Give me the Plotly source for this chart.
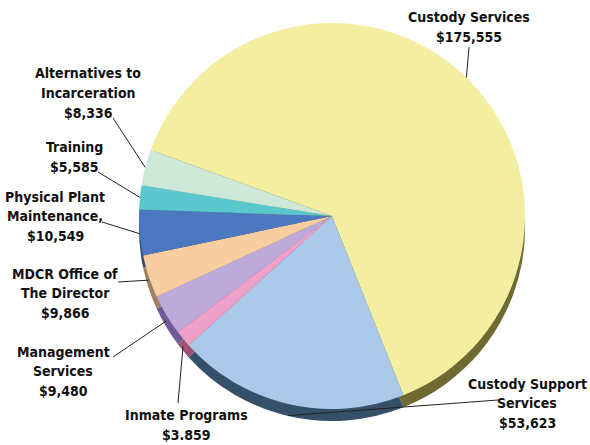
import math
import plotly.graph_objects as go

# ---- data ---------------------------------------------------------------
categories = [
    "Custody Services",
    "Custody Support Services",
    "Inmate Programs",
    "Management Services",
    "MDCR Office of The Director",
    "Physical Plant Maintenance",
    "Training",
    "Alternatives to Incarceration",
]
amounts = [175555, 53623, 3859, 9480, 9866, 10549, 5585, 8336]
name_lines = [
    ["Custody Services"],
    ["Custody Support", "Services"],
    ["Inmate Programs"],
    ["Management", "Services"],
    ["MDCR Office of", "The Director"],
    ["Physical Plant", "Maintenance,"],
    ["Training"],
    ["Alternatives to", "Incarceration"],
]
amount_labels = ["$175,555", "$53,623", "$3.859", "$9,480",
                 "$9,866", "$10,549", "$5,585", "$8,336"]

# ---- styling ------------------------------------------------------------
top_colors = ["#F4EFA0", "#AAC8E8", "#EEA0C8", "#BEAAD8",
              "#F8CDA0", "#4B78BE", "#5AC8CC", "#CDE8D7"]
rim_colors = ["#6E6A32", "#37506A", "#A05070", "#6E5A96",
              "#A08060", "#2E4A78", "#34787A", "#7E9484"]
LABEL_FONT = dict(family="DejaVu Sans Condensed", size=14,
                  color="#111111", weight="bold")
LINE_GAP = 19.5                # pixels between label lines

W, H = 590, 445
CX, CY, R = 332, 216, 193      # pie centre / radius in pixels
DEPTH = 12                     # thickness of the pie edge
START = 160                    # angle (deg, counter-clockwise from east) of first slice edge

# label block centres and leader-line start points (pixels)
label_pos = [(469, 27), (527, 403), (186, 425), (63, 371),
             (65, 293), (55, 216), (74, 157), (88, 93)]
line_start = [(469, 47), (498, 400), (178, 403), (113, 357),
              (118, 282), (102, 222), (98, 172), (113, 118)]


def dom(cy):
    return dict(x=[(CX - R) / W, (CX + R) / W],
                y=[1 - (cy + R) / H, 1 - (cy - R) / H])


fig = go.Figure()
# lower copy of the pie gives the 3-D rim
fig.add_trace(go.Pie(labels=categories, values=amounts, sort=False,
                     direction="clockwise", rotation=90 - START,
                     marker=dict(colors=rim_colors, line=dict(width=0)),
                     textinfo="none", hoverinfo="skip", domain=dom(CY + DEPTH),
                     showlegend=False))
fig.add_trace(go.Pie(labels=categories, values=amounts, sort=False,
                     direction="clockwise", rotation=90 - START,
                     marker=dict(colors=top_colors, line=dict(width=0)),
                     textinfo="none", hoverinfo="label+value", domain=dom(CY),
                     showlegend=False))

total = sum(amounts)
angle = START
annotations, shapes = [], []
for i, v in enumerate(amounts):
    sweep = v / total * 360
    mid = math.radians(angle - sweep / 2)
    angle -= sweep
    dx, dy = math.cos(mid), math.sin(mid)
    tx = CX + R * dx
    ty = CY - R * dy + DEPTH * max(0.0, -dy)
    sx, sy = line_start[i]
    shapes.append(dict(type="line", xref="paper", yref="paper",
                       x0=sx / W, y0=1 - sy / H, x1=tx / W, y1=1 - ty / H,
                       line=dict(color="#222222", width=1)))
    # one annotation per text line so the line spacing can be set exactly
    lines = name_lines[i] + [amount_labels[i]]
    lx, ly = label_pos[i]
    first = ly - LINE_GAP * (len(lines) - 1) / 2
    for k, txt in enumerate(lines):
        annotations.append(dict(
            text=txt, x=lx / W, y=1 - (first + k * LINE_GAP) / H,
            xref="paper", yref="paper", xanchor="center", yanchor="middle",
            showarrow=False, font=LABEL_FONT))

fig.update_layout(width=W, height=H, margin=dict(l=0, r=0, t=0, b=0),
                  paper_bgcolor="white", plot_bgcolor="white",
                  annotations=annotations, shapes=shapes)

fig.write_html("out.html")
